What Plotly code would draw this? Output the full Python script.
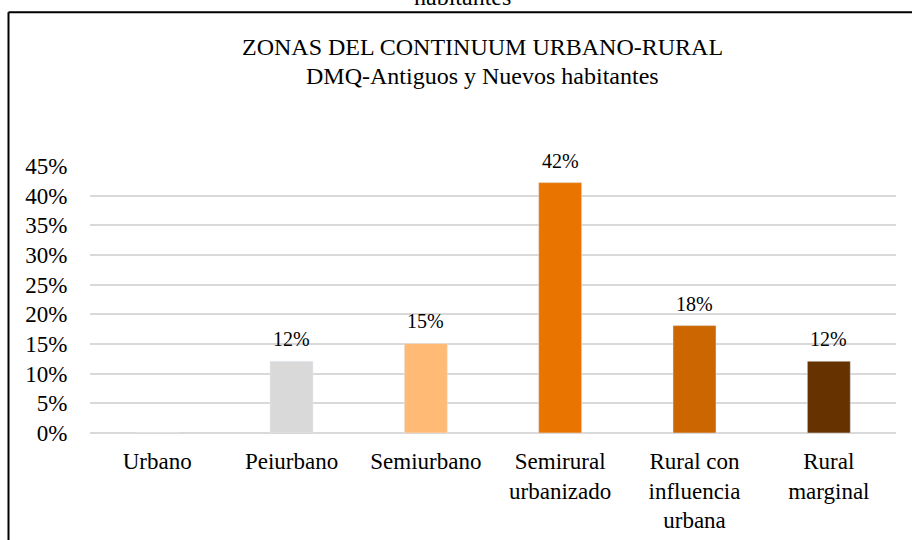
import plotly.graph_objects as go

categories = ["Urbano", "Peiurbano", "Semiurbano", "Semirural<br>urbanizado",
              "Rural con<br>influencia<br>urbana", "Rural<br>marginal"]
values = [0.0, 0.121, 0.151, 0.422, 0.181, 0.121]
labels = ["", "12%", "15%", "42%", "18%", "12%"]
colors = ["#D9D9D9", "#D9D9D9", "#FFBA75", "#E97500", "#CC6600", "#663300"]
tick_vals = [0, 0.05, 0.10, 0.15, 0.20, 0.25, 0.30, 0.35, 0.40, 0.45]
tick_text = ["0%", "5%", "10%", "15%", "20%", "25%", "30%", "35%", "40%", "45%"]

FONT = "Liberation Serif, Times New Roman, serif"

W, H = 912, 540
L, R, T, B = 90, 16, 166, 107.3
pw, ph = W - L - R, H - T - B

def px(x):
    return (x - L) / pw

def py(y):
    return (H - B - y) / ph

fig = go.Figure(go.Bar(
    x=categories, y=values, marker_color=colors, width=0.32,
    hoverinfo="skip",
))

annotations = [
    dict(text="ZONAS DEL CONTINUUM URBANO-RURAL", xref="paper", yref="paper",
         x=px(482), y=py(47), xanchor="center", yanchor="middle",
         showarrow=False, font=dict(family=FONT, size=24, color="#000000")),
    dict(text="DMQ-Antiguos y Nuevos habitantes", xref="paper", yref="paper",
         x=px(482), y=py(76), xanchor="center", yanchor="middle",
         showarrow=False, font=dict(family=FONT, size=24, color="#000000")),
    dict(text="habitantes", xref="paper", yref="paper",
         x=px(462), y=py(-3), xanchor="center", yanchor="middle",
         showarrow=False, font=dict(family=FONT, size=24, color="#000000")),
]
for c, v, t in zip(categories, values, labels):
    if t:
        annotations.append(dict(text=t, x=c, y=v, xref="x", yref="y",
                                xanchor="center", yanchor="middle", yshift=22,
                                showarrow=False,
                                font=dict(family=FONT, size=20, color="#000000")))

fig.update_layout(
    width=W, height=H,
    margin=dict(l=L, r=R, t=T, b=B, pad=0),
    paper_bgcolor="white", plot_bgcolor="white",
    showlegend=False,
    font=dict(family=FONT, size=23, color="#000000"),
    xaxis=dict(showgrid=False, showline=False, zeroline=False, automargin=False,
               ticks="outside", ticklen=7, tickcolor="rgba(0,0,0,0)",
               tickfont=dict(family=FONT, size=23, color="#000000")),
    yaxis=dict(range=[0, 0.45], tickvals=tick_vals, ticktext=tick_text,
               automargin=False,
               showgrid=True, gridcolor="#D9D9D9", gridwidth=2,
               zeroline=True, zerolinecolor="#D9D9D9", zerolinewidth=2,
               showline=False, ticks="outside", ticklen=17,
               tickcolor="rgba(0,0,0,0)",
               tickfont=dict(family=FONT, size=23, color="#000000")),
    annotations=annotations,
    shapes=[
        dict(type="line", xref="paper", yref="paper",
             x0=px(8.5), x1=px(8.5), y0=py(12.5), y1=py(600),
             line=dict(color="#000000", width=2)),
        dict(type="line", xref="paper", yref="paper",
             x0=px(8.5), x1=px(1000), y0=py(12.5), y1=py(12.5),
             line=dict(color="#000000", width=2)),
    ],
)

fig.write_html("out.html", config={"displayModeBar": False},
               post_script="document.body.style.margin='0';document.body.style.overflow='hidden';")
